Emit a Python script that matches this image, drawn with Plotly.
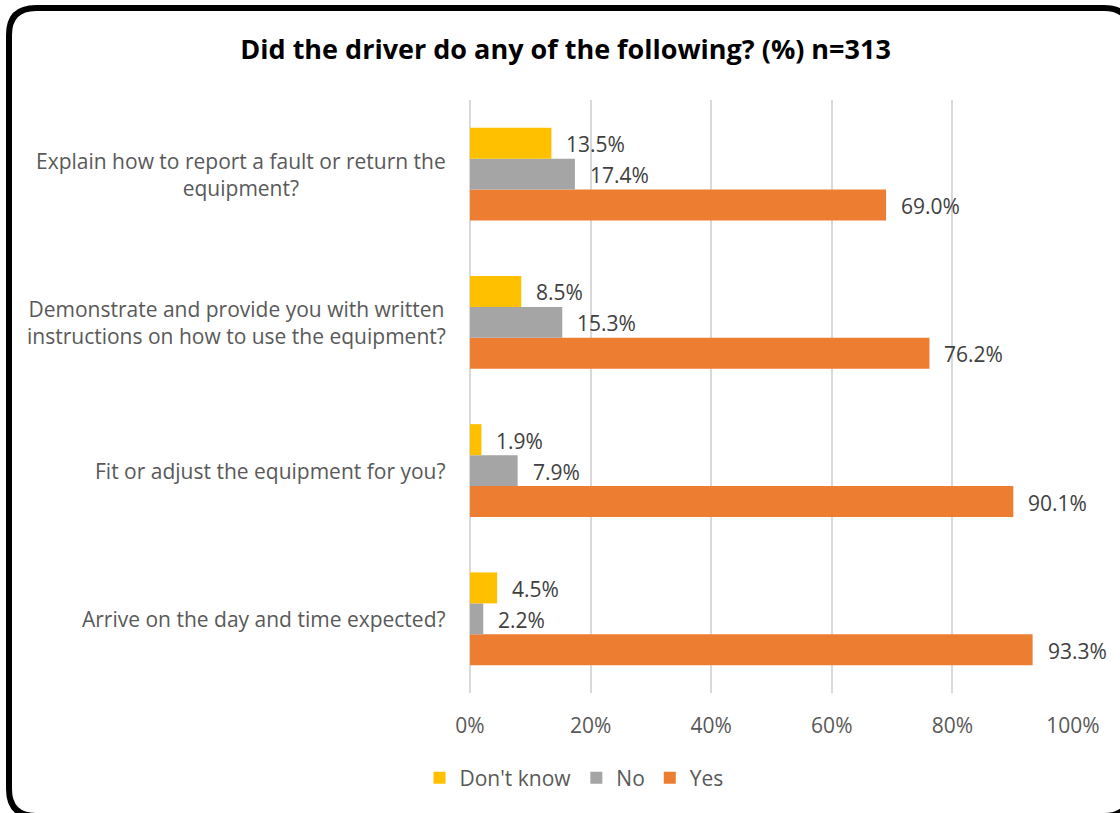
import plotly.graph_objects as go

# Survey responses, in percent
categories = [
    "Arrive on the day and time expected?",
    "Fit or adjust the equipment for you?",
    "Demonstrate and provide you with written<br>instructions on how to use the equipment?",
    "Explain how to report a fault or return the<br>equipment?",
]
yes_vals = [93.3, 90.1, 76.2, 69.0]
no_vals = [2.2, 7.9, 15.3, 17.4]
dont_know_vals = [4.5, 1.9, 8.5, 13.5]
x_ticks = [0, 20, 40, 60, 80, 100]
x_tick_labels = ["0%", "20%", "40%", "60%", "80%", "100%"]

W, H = 1120, 813
ML, MR, MT, MB = 470, 47, 100, 120
PW, PH = W - ML - MR, H - MT - MB
BARGAP = 0.373

FONT = "Open Sans"
GREY_TXT = "#595959"
TXT_SIZE = 21

fig = go.Figure()
series = [
    ("Yes", yes_vals, "#ED7D31"),
    ("No", no_vals, "#A5A5A5"),
    ("Don't know", dont_know_vals, "#FFC000"),
]
for name, vals, col in series:
    fig.add_trace(go.Bar(
        y=categories, x=vals, name=name, orientation="h",
        marker=dict(color=col, line=dict(width=0)),
        hoverinfo="skip",
    ))

# value labels next to each bar end
band = PH / len(categories)
bar_px = band * (1 - BARGAP) / len(series)
annotations = []
for i, (name, vals, col) in enumerate(series):
    shift = (i - 1) * bar_px
    for cat, v in zip(categories, vals):
        annotations.append(dict(
            x=v, y=cat, xref="x", yref="y", text=f"{v:.1f}%",
            showarrow=False, xanchor="left", yanchor="middle",
            xshift=13, yshift=shift - 1,
            font=dict(family=FONT, size=TXT_SIZE, color="#404040"),
        ))

# category labels, centred lines, right edge near the axis
for cat in categories:
    annotations.append(dict(
        x=-22 / PW, y=cat, xref="paper", yref="y", text=cat,
        showarrow=False, xanchor="right", yanchor="middle", align="center",
        font=dict(family=FONT, size=TXT_SIZE, color=GREY_TXT),
    ))

# rounded frame around the chart (pixel geometry converted to paper units)
def px(xp):
    return (xp - ML) / PW

def py(yp):
    return (H - MB - yp) / PH

x0, y0, x1, y1, r = 9, 8, 1131, 816, 27
pts = [
    ("M", x0 + r, y0), ("L", x1 - r, y0), ("Q", x1, y0, x1, y0 + r),
    ("L", x1, y1 - r), ("Q", x1, y1, x1 - r, y1), ("L", x0 + r, y1),
    ("Q", x0, y1, x0, y1 - r), ("L", x0, y0 + r), ("Q", x0, y0, x0 + r, y0),
]
path = ""
for p in pts:
    cmd, coords = p[0], p[1:]
    segs = []
    for j in range(0, len(coords), 2):
        segs.append(f"{px(coords[j]):.5f},{py(coords[j + 1]):.5f}")
    path += cmd + " ".join(segs) + " "
path += "Z"

fig.update_layout(
    width=W, height=H,
    margin=dict(l=ML, r=MR, t=MT, b=MB),
    paper_bgcolor="white", plot_bgcolor="white",
    barmode="group", bargap=BARGAP, bargroupgap=0,
    title=dict(
        text="<b>Did the driver do any of the following? (%) n=313</b>",
        x=0.505, xref="container", xanchor="center",
        y=1 - 50 / H, yref="container", yanchor="middle",
        font=dict(family=FONT, size=27, color="#000000"),
    ),
    xaxis=dict(
        range=[0, 100], tickmode="array", tickvals=x_ticks, ticktext=x_tick_labels,
        showgrid=True, gridcolor="#D9D9D9", gridwidth=1.5,
        zeroline=True, zerolinecolor="#D9D9D9", zerolinewidth=1.5,
        showline=False, ticks="", ticklabelstandoff=18,
        tickfont=dict(family=FONT, size=TXT_SIZE, color=GREY_TXT),
        fixedrange=True,
    ),
    yaxis=dict(
        categoryorder="array", categoryarray=categories,
        showticklabels=False, showgrid=False, zeroline=False, ticks="",
        fixedrange=True,
    ),
    legend=dict(
        orientation="h", traceorder="reversed",
        x=(574 - ML) / PW, xanchor="center",
        y=(H - MB - 778) / PH, yanchor="middle",
        font=dict(family=FONT, size=TXT_SIZE, color=GREY_TXT),
        itemclick=False, itemdoubleclick=False,
    ),
    annotations=annotations,
    shapes=[dict(type="path", xref="paper", yref="paper", path=path,
                 line=dict(color="black", width=6), layer="above")],
)

fig.write_html("out.html")
